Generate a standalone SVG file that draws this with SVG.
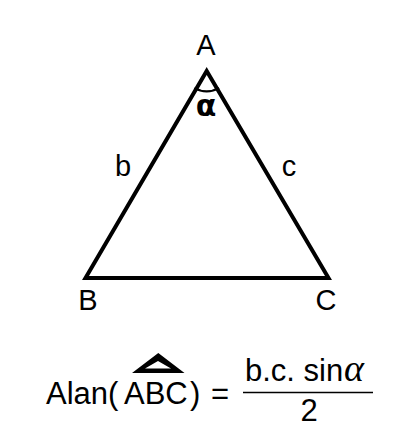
<svg xmlns="http://www.w3.org/2000/svg" width="420" height="446" viewBox="0 0 420 446">
<style>
.lbl{font-family:"Liberation Sans",Arial,sans-serif;font-size:29px;fill:#000}
.f{font-family:"Liberation Sans",Arial,sans-serif;font-size:31px;fill:#000}
.gr{font-family:"Liberation Serif","Times New Roman",serif;fill:#000}
</style>
<rect width="420" height="446" fill="#fff"/>
<g id="triangle">
<polygon points="206.7,71 328.5,278 85.5,278" fill="none" stroke="#000" stroke-width="4" stroke-linejoin="miter"/>
<path d="M194.4,88 A24.5,24.5 0 0 0 219,88" fill="none" stroke="#000" stroke-width="2.5"/>
<text x="206" y="116" font-family="'DejaVu Sans',sans-serif" font-size="30" font-weight="bold" text-anchor="middle" fill="#000">α</text>
</g>
<g id="A"><text class="lbl" x="206" y="55" text-anchor="middle">A</text></g>
<g id="B"><text class="lbl" x="88" y="310" text-anchor="middle">B</text></g>
<g id="C"><text class="lbl" x="326" y="310" text-anchor="middle">C</text></g>
<g id="b"><text class="lbl" x="123" y="176" text-anchor="middle">b</text></g>
<g id="c"><text class="lbl" x="289" y="176" text-anchor="middle">c</text></g>
<g id="formula">
<text class="f" x="46" y="404">Alan(</text>
<text class="f" x="124" y="404">ABC</text>
<path d="M132,373 L158.3,353 L184.5,373 Z M145,368.5 L171,368.5 L158,361 Z" fill="#000" fill-rule="evenodd"/>
<text class="f" x="190" y="404">)</text>
<text class="f" x="211" y="404">=</text>
<line x1="243" y1="392.5" x2="373" y2="392.5" stroke="#000" stroke-width="1.5"/>
<text class="f" x="245" y="381">b.c. sin</text>
<text class="gr" x="344" y="381" font-size="38" font-style="italic">α</text>
<text class="f" x="309" y="421" text-anchor="middle">2</text>
</g>
</svg>
